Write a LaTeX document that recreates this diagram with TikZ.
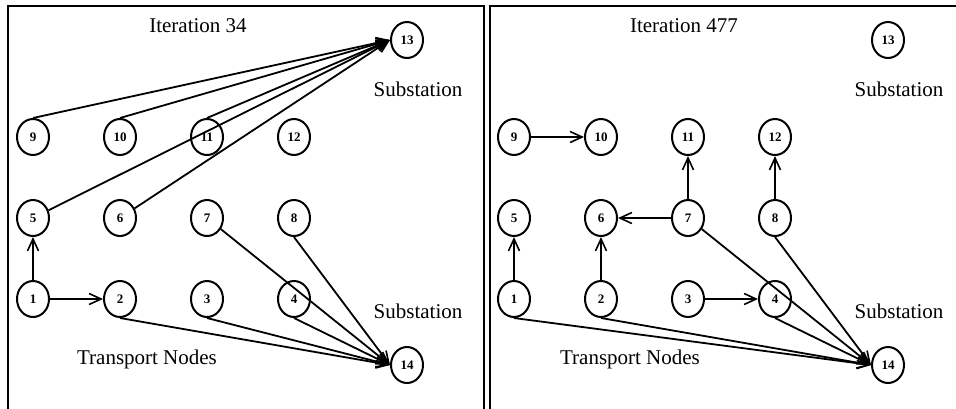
\documentclass[tikz,border=0pt]{standalone}
\usepackage{fontspec}
\setmainfont{Liberation Serif}
\usetikzlibrary{shapes.geometric,arrows.meta}

\begin{document}
\begin{tikzpicture}[
    x=1pt, y=-1pt,
    station/.style={ellipse, draw, line width=2pt, minimum width=32pt,
      minimum height=36pt, inner sep=0pt, font=\bfseries\fontsize{13}{15}\selectfont},
    link/.style={-{Straight Barb[length=12pt,width=11pt,line width=1.6pt]}, line width=1.8pt},
    frame/.style={line width=2.8pt},
    caption/.style={font=\fontsize{21}{25}\selectfont}
  ]
    \useasboundingbox (0,0) rectangle (956,408);

    % Frames
    \draw[frame] (8,420) -- (8,6) -- (484,6) -- (484,420);
    \draw[frame] (490,420) -- (490,6) -- (970,6);

    % Transport nodes
    \foreach \r/\y in {0/299,1/218,2/137}
      \foreach \c/\x in {1/33,2/120,3/207,4/294} {
        \pgfmathtruncatemacro{\n}{4*\r+\c}
        \node[station] (left\n) at (\x,\y) {\n};
        \node[station] (right\n) at (\x+481,\y) {\n};
      }

    % Substations
    \node[station] (left13) at (407,40) {13};
    \node[station] (left14) at (407,365) {14};
    \node[station] (right13) at (888,40) {13};
    \node[station] (right14) at (888,365) {14};

    % Iteration 34
    \foreach \i in {9,10,11}
      \draw[link] (left\i.north) -- (left13.west);
    \foreach \i in {5,6}
      \draw[link] (left\i) -- (left13.west);
    \draw[link] (left1) -- (left5);
    \draw[link] (left1) -- (left2);
    \foreach \i in {2,3,4,8}
      \draw[link] (left\i.south) -- (left14.west);
    \draw[link] (left7) -- (left14.west);

    % Iteration 477
    \draw[link] (right9) -- (right10);
    \draw[link] (right7) -- (right11);
    \draw[link] (right8) -- (right12);
    \draw[link] (right7) -- (right6);
    \draw[link] (right1) -- (right5);
    \draw[link] (right2) -- (right6);
    \draw[link] (right3) -- (right4);
    \foreach \i in {1,2,4,8}
      \draw[link] (right\i.south) -- (right14.west);
    \draw[link] (right7) -- (right14.west);

    \node[caption] (title1) at (198,26) {Iteration 34};
    \node[caption] (title2) at (684,26) {Iteration 477};
    \node[caption] (sub1) at (418,89) {Substation};
    \node[caption] (sub2) at (418,311) {Substation};
    \node[caption] (sub3) at (899,89) {Substation};
    \node[caption] (sub4) at (899,311) {Substation};
    \node[caption] (tn1) at (147,359) {Transport Nodes};
    \node[caption] (tn2) at (630,359) {Transport Nodes};

  \end{tikzpicture}
\end{document}
